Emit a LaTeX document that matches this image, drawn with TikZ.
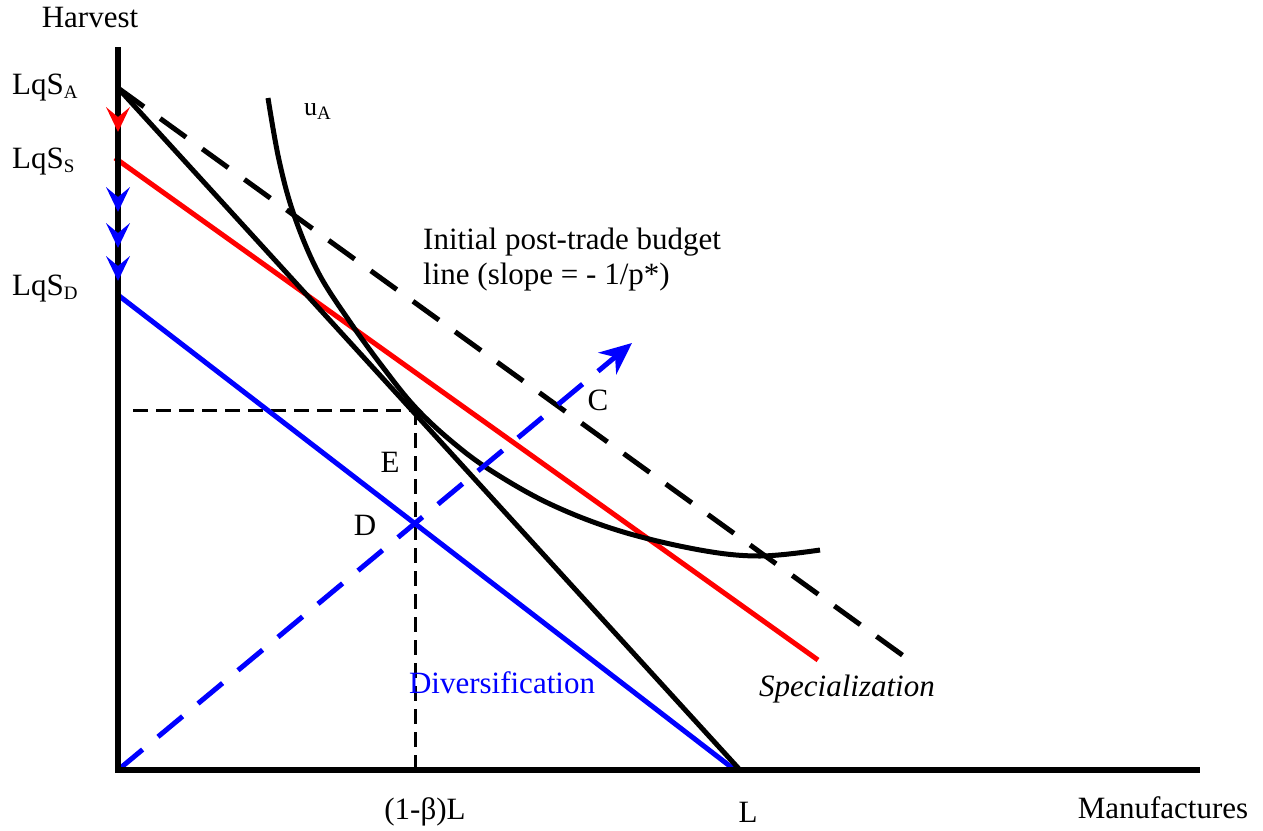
\documentclass[tikz,border=0pt]{standalone}
\usepackage{fontspec}
\setmainfont{Liberation Serif}
\usetikzlibrary{arrows.meta,calc}
\newcommand{\lowsub}[1]{\raisebox{-0.35ex}{\fontsize{19}{19}\selectfont #1}}
\begin{document}
\begin{tikzpicture}[x=1pt,y=-1pt,
  lbl/.style={font=\fontsize{31}{37}\selectfont, inner sep=0pt},
  axisline/.style={line width=6pt},
  mainline/.style={line width=5pt},
  bigdash/.style={line width=5pt, dash pattern=on 32pt off 20pt},
  thindash/.style={line width=3pt, dash pattern=on 15pt off 8pt},
]
\useasboundingbox (0,0) rectangle (1263,830);
\definecolor{myblue}{RGB}{0,0,255}
\definecolor{myred}{RGB}{255,0,0}
% coordinates
\coordinate (O) at (118,770);
\coordinate (Ytop) at (118,47);
\coordinate (Xend) at (1200,770);
\coordinate (SA) at (118,88);
\coordinate (SS) at (115,158);
\coordinate (SD) at (118,295);
\coordinate (Lx) at (740,770);
\coordinate (Dend) at (735,770);
\coordinate (Rend) at (818,660);
\coordinate (Kend) at (905,657);
\coordinate (E) at (415,410);
\coordinate (Hl) at (133,410);
\coordinate (Eb) at (415,770);
\coordinate (Aend) at (632,343);
% thin dashed guides
\draw[thindash] (Hl) -- (E);
\draw[thindash] (E) -- (Eb);
% main lines
\draw[mainline, myblue] (SD) -- (Dend);
\draw[mainline, myred] (SS) -- (Rend);
\draw[bigdash] (SA) -- (Kend);
\draw[mainline] (SA) -- (Lx);
% indifference curve
\draw[line width=5pt] plot[smooth, tension=0.6] coordinates {(268,98) (279,160) (294,215) (318,272) (350,322) (385,370) (415,407) (450,440) (490,470) (550,504) (620,531) (700,550) (760,556) (820,550)};
% expansion path
\draw[line width=5pt, myblue, dash pattern=on 32pt off 20pt, -{Stealth[length=32pt,width=28pt,inset=10pt]}] (O) -- (Aend);
% axes
\draw[axisline] (Ytop) -- (O) -- (Xend);
% arrowheads on vertical axis
\fill[myred] (118,132) -- (106,107) -- (118,117) -- (130,107) -- cycle;
\foreach \t in {212,248,281}{
  \fill[myblue] (118,\t) -- (106,{\t-25}) -- (118,{\t-15}) -- (130,{\t-25}) -- cycle;
}
% labels
\node[lbl] (harvest) at (90,18) {Harvest};
\node[lbl, anchor=base west] (lsa) at (12,94) {LqS\lowsub{A}};
\node[lbl, anchor=base west] (lss) at (12,168) {LqS\lowsub{S}};
\node[lbl, anchor=base west] (lsd) at (12,295) {LqS\lowsub{D}};
\node[lbl, anchor=base west] (ua) at (304,115) {\fontsize{26}{30}\selectfont u\lowsub{A}};
\node[lbl, anchor=base west] (init1) at (423,249) {Initial post-trade budget};
\node[lbl, anchor=base west] (init2) at (423,284) {line (slope = - 1/p*)};
\node[lbl] (C) at (598,400) {C};
\node[lbl] (Elbl) at (390,462) {E};
\node[lbl] (Dlbl) at (365,525) {D};
\node[lbl, text=myblue] (div) at (502,683) {Diversification};
\node[lbl, font=\fontsize{31}{37}\selectfont\itshape] (spec) at (847,689) {Specialization};
\node[lbl] (bl) at (425,812) {(1-β)L};
\node[lbl] (Llbl) at (748,812) {L};
\node[lbl] (manu) at (1163,808) {Manufactures};
\end{tikzpicture}
\end{document}
